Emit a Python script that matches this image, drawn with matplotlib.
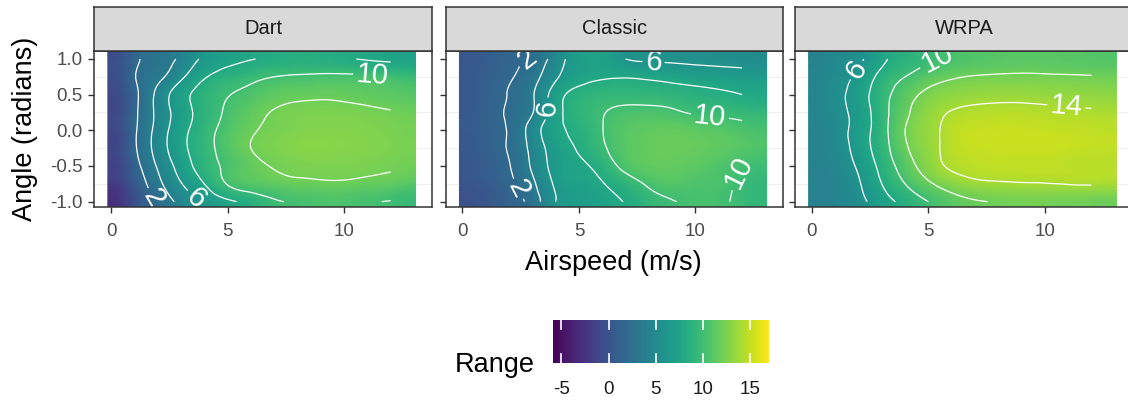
import numpy as np
import matplotlib.pyplot as plt
import matplotlib.tri as mtri

plt.rcParams['font.family'] = ['Liberation Sans', 'DejaVu Sans']
plt.rcParams['axes.unicode_minus'] = False

# grid the range surface was read on
airspeed = np.array([0, 1, 2, 3, 4, 5, 6, 7, 8, 9, 10, 11, 12, 13])
angle = np.array([-1.0, -0.75, -0.5, -0.25, 0.0, 0.25, 0.5, 0.75, 1.0])

# rows go from angle -1 (first) to angle 1 (last)
dart = np.array([
    [-2.8, -0.3, 2.2, 4.6, 6.3, 7.6, 8.6, 9.7, 10.2, 10.5, 10.5, 10.2, 9.9, 9.5],
    [-2.0, 0.5, 3.4, 5.9, 8.0, 10.1, 10.9, 11.4, 11.7, 11.8, 11.8, 11.6, 11.4, 11.0],
    [-1.5, 1.2, 4.2, 6.8, 9.0, 10.4, 11.5, 12.1, 12.4, 12.5, 12.5, 12.4, 12.2, 12.0],
    [-1.1, 1.7, 4.8, 7.4, 9.3, 10.8, 12.0, 12.5, 12.8, 12.9, 12.8, 12.7, 12.5, 12.3],
    [-1.0, 1.7, 4.7, 7.3, 9.2, 10.7, 11.8, 12.3, 12.6, 12.7, 12.7, 12.6, 12.4, 12.2],
    [-0.9, 1.6, 4.5, 7.0, 8.9, 10.3, 11.4, 12.1, 12.4, 12.5, 12.45, 12.3, 12.1, 11.9],
    [-0.8, 1.5, 4.5, 7.2, 8.9, 9.9, 10.6, 11.3, 11.6, 11.7, 11.6, 11.4, 11.2, 10.9],
    [-0.6, 1.9, 3.5, 5.6, 7.8, 8.8, 9.5, 10.0, 10.2, 10.3, 10.3, 10.2, 10.0, 9.6],
    [-0.5, 1.6, 3.0, 4.4, 6.4, 7.3, 7.9, 8.3, 8.5, 8.4, 8.2, 7.8, 7.5, 7.3],
])

classic = np.array([
    [-0.2, 0.3, 1.3, 2.8, 6.0, 6.8, 7.4, 8.1, 9.2, 9.9, 10.3, 10.2, 9.6, 9.2],
    [0.1, 0.6, 1.6, 3.6, 6.3, 7.2, 7.9, 9.0, 10.3, 10.8, 10.6, 10.4, 9.7, 9.3],
    [0.3, 0.9, 1.9, 4.3, 6.6, 7.6, 8.8, 10.6, 11.4, 11.5, 11.2, 10.7, 10.1, 9.8],
    [0.4, 1.1, 2.2, 4.6, 6.9, 8.2, 9.7, 11.0, 11.6, 11.7, 11.6, 11.3, 10.9, 10.6],
    [0.5, 1.2, 2.2, 4.9, 7.4, 8.6, 9.95, 11.0, 11.4, 11.5, 11.3, 11.0, 10.6, 10.3],
    [0.5, 1.2, 2.2, 3.9, 7.2, 9.0, 9.9, 10.4, 10.5, 10.3, 9.8, 9.6, 9.4, 9.2],
    [0.4, 1.1, 2.1, 3.8, 7.0, 8.7, 9.2, 9.3, 9.2, 9.0, 8.7, 8.4, 8.0, 7.8],
    [0.4, 1.0, 1.8, 3.2, 5.7, 7.3, 7.8, 7.9, 7.7, 7.4, 7.1, 6.9, 6.7, 6.6],
    [0.3, 0.8, 1.5, 2.3, 5.0, 6.9, 7.2, 6.0, 5.7, 5.6, 5.5, 5.4, 5.3, 5.2],
])

wrpa = np.array([
    [4.1, 4.4, 5.4, 7.1, 8.6, 10.0, 11.1, 11.8, 12.1, 12.2, 12.2, 12.1, 12.0, 11.9],
    [4.2, 4.5, 5.8, 8.0, 10.0, 11.7, 12.9, 13.6, 13.8, 13.9, 13.95, 14.05, 14.1, 14.0],
    [4.3, 4.7, 6.3, 8.6, 11.0, 13.0, 14.3, 14.7, 14.8, 14.8, 14.8, 14.7, 14.6, 14.5],
    [4.3, 4.9, 6.8, 9.1, 11.7, 13.3, 14.6, 15.0, 15.1, 15.1, 15.1, 15.0, 14.9, 14.8],
    [4.4, 5.0, 6.9, 9.2, 12.0, 13.4, 14.6, 15.0, 15.1, 15.1, 15.0, 14.9, 14.8, 14.7],
    [4.5, 5.3, 6.8, 9.2, 11.6, 13.2, 14.1, 14.4, 14.5, 14.5, 14.4, 14.3, 14.2, 14.1],
    [4.5, 5.4, 7.0, 9.2, 11.1, 12.5, 13.1, 13.4, 13.5, 13.5, 13.4, 13.3, 13.2, 13.1],
    [4.4, 5.2, 6.5, 8.6, 10.0, 11.1, 11.8, 12.1, 12.2, 12.25, 12.2, 12.15, 12.1, 12.0],
    [4.3, 4.9, 5.6, 7.6, 8.8, 9.7, 10.4, 10.8, 11.0, 11.1, 11.1, 11.0, 10.9, 10.8],
])

panels = ['Dart', 'Classic', 'WRPA']
fields = [dart, classic, wrpa]
levels = [2, 4, 6, 8, 10, 12, 14, 16]
labelled = [[2, 6, 10], [2, 6, 10], [6, 10, 14]]
range_ticks = [-5, 0, 5, 10, 15]
vmin, vmax = -5.9, 17.0

# where the contour labels sit in each panel
label_spots = [
    [(1.9, -0.93), (3.7, -0.93), (11.2, 0.72)],
    [(3.0, 0.95), (2.5, -0.8), (4.0, 0.3), (8.2, 0.95), (10.6, 0.12), (11.9, -0.6)],
    [(2.1, 0.8), (5.7, 1.0), (10.9, 0.26)],
]

W, H = 1128, 404
def box(l, t, r, b):
    return [l / W, 1 - b / H, (r - l) / W, (b - t) / H]

fig = plt.figure(figsize=(W / 100, H / 100), dpi=100)

# raster padded so it fills the panel like geom_raster does
xr = np.concatenate([[-0.13], airspeed, [13.05]])
yr = np.concatenate([[-1.08], angle, [1.112]])
rx, ry = np.meshgrid(xr, yr)
tri_r = mtri.Triangulation(rx.ravel(), ry.ravel())
# contours use the grid up to 12 m/s
cx, cy = np.meshgrid(airspeed[:13], angle)
tri_c = mtri.Triangulation(cx.ravel(), cy.ravel())

lefts = [94.3, 445.7, 795.1]
pw = 337.4
for i, (name, z) in enumerate(zip(panels, fields)):
    l = lefts[i]
    ax = fig.add_axes(box(l, 51, l + pw, 207.3))
    ax.set_xlim(-0.72, 13.76)
    ax.set_ylim(-1.079, 1.112)
    ax.set_xticks([0, 5, 10])
    ax.set_xticks([2.5, 7.5, 12.5], minor=True)
    ax.set_yticks([-1, -0.5, 0, 0.5, 1])
    ax.set_yticks([-0.75, -0.25, 0.25, 0.75], minor=True)
    ax.yaxis.set_major_formatter(plt.FormatStrFormatter('%.1f'))
    ax.grid(which='major', color='#ebebeb', lw=1.1)
    ax.grid(which='minor', color='#ebebeb', lw=0.6)
    ax.set_axisbelow(True)

    zr = np.pad(z, 1, mode='edge')
    tf, zf = mtri.UniformTriRefiner(tri_r).refine_field(zr.ravel(), subdiv=3)
    pcm = ax.tripcolor(tf, zf, shading='gouraud', cmap='viridis',
                       vmin=vmin, vmax=vmax, zorder=1)

    tc, zc = mtri.UniformTriRefiner(tri_c).refine_field(z[:, :13].ravel(), subdiv=3)
    plain = [v for v in levels if v not in labelled[i]]
    ax.tricontour(tc, zc, levels=plain, colors='white', linewidths=0.9, zorder=2)
    cs = ax.tricontour(tc, zc, levels=labelled[i], colors='white',
                       linewidths=0.9, zorder=2)
    ax.clabel(cs, manual=label_spots[i], fontsize=21,
              colors='white', inline=True, inline_spacing=3, fmt='%d')

    for s in ax.spines.values():
        s.set_color('#333333')
        s.set_linewidth(1.1)
        s.set_zorder(5)
    ax.tick_params(which='major', direction='out', length=4.5, width=1,
                   color='#333333', labelsize=13.5, labelcolor='#4d4d4d', pad=4)
    ax.tick_params(which='minor', length=0)
    ax.tick_params(axis='x', pad=7)
    if i > 0:
        ax.tick_params(labelleft=False)

    st = fig.add_axes(box(l, 7, l + pw, 51))
    st.set_facecolor('#d9d9d9')
    st.set_xticks([])
    st.set_yticks([])
    for s in st.spines.values():
        s.set_color('#333333')
        s.set_linewidth(1.1)
    st.text(0.5, 0.5, name, ha='center', va='center', fontsize=14.5,
            color='#1a1a1a', transform=st.transAxes)

fig.text(25 / W, 1 - 129 / H, 'Angle (radians)', rotation=90,
         ha='center', va='center', fontsize=19.5)
fig.text(613 / W, 1 - 263 / H, 'Airspeed (m/s)', ha='center', va='center',
         fontsize=19.5)

# colour bar legend
cax = fig.add_axes(box(552.7, 320, 769.3, 363))
cb = fig.colorbar(pcm, cax=cax, orientation='horizontal', ticks=range_ticks)
cb.outline.set_visible(False)
cax.tick_params(length=0, labelsize=13.5, pad=13, labelcolor='#1a1a1a')
for t in range_ticks:
    cax.plot([t, t], [0, 0.2], color='white', lw=1.2)
    cax.plot([t, t], [0.8, 1], color='white', lw=1.2)
fig.text(535 / W, 1 - 372 / H, 'Range', ha='right', va='baseline',
         fontsize=19.5)

fig.savefig('out.png', dpi=100)
